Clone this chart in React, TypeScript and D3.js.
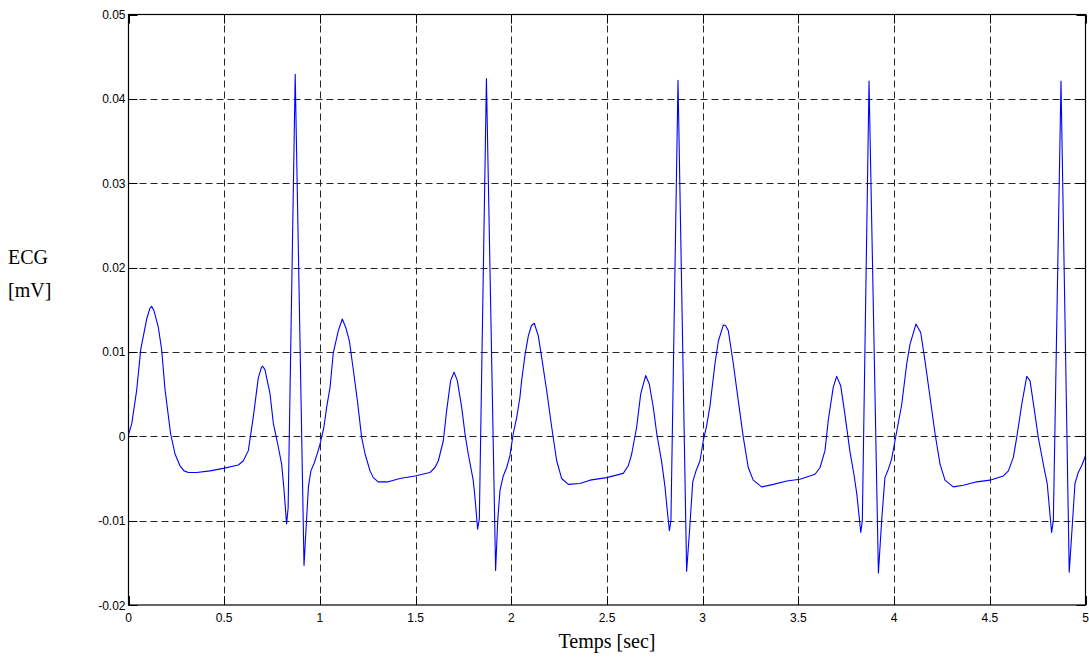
import React from "react";
import * as d3 from "d3";

const timeSec: number[] = [
  0.000, 0.017, 0.043, 0.064, 0.095, 0.112, 0.121, 0.133, 0.156, 0.173, 0.191, 0.220, 0.243, 0.269, 0.290, 0.313, 0.356, 0.426, 0.495, 0.574, 0.600, 0.626, 0.652, 0.678, 0.695, 0.701, 0.713, 0.739, 0.757, 0.783, 0.800, 0.812, 0.826, 0.834, 0.871, 0.917, 0.925, 0.940, 0.953, 0.970, 0.987,
  1.000, 1.021, 1.035, 1.053, 1.070, 1.096, 1.117, 1.135, 1.154, 1.175, 1.196, 1.218, 1.236, 1.262, 1.279, 1.305, 1.357, 1.418, 1.497, 1.575, 1.601, 1.619, 1.645, 1.662, 1.683, 1.701, 1.718, 1.741, 1.758, 1.775, 1.801, 1.810, 1.824, 1.833, 1.870, 1.918, 1.929, 1.941, 1.958, 1.976, 1.993,
  2.010, 2.028, 2.045, 2.054, 2.072, 2.089, 2.105, 2.120, 2.141, 2.159, 2.185, 2.211, 2.237, 2.263, 2.298, 2.359, 2.411, 2.498, 2.585, 2.611, 2.629, 2.655, 2.676, 2.702, 2.721, 2.742, 2.760, 2.786, 2.803, 2.815, 2.826, 2.834, 2.871, 2.916, 2.930, 2.948, 2.965, 2.986,
  3.003, 3.021, 3.038, 3.064, 3.082, 3.108, 3.120, 3.134, 3.160, 3.186, 3.212, 3.238, 3.264, 3.308, 3.369, 3.439, 3.508, 3.587, 3.613, 3.639, 3.656, 3.682, 3.700, 3.721, 3.743, 3.770, 3.790, 3.805, 3.826, 3.834, 3.869, 3.918, 3.935, 3.952, 3.970, 3.987,
  4.005, 4.040, 4.066, 4.083, 4.114, 4.139, 4.161, 4.188, 4.214, 4.240, 4.266, 4.309, 4.362, 4.432, 4.501, 4.571, 4.597, 4.623, 4.641, 4.667, 4.693, 4.710, 4.731, 4.753, 4.783, 4.800, 4.811, 4.823, 4.832, 4.872, 4.915, 4.928, 4.945, 4.962, 4.980, 5.000,
];

const ecgMv: number[] = [
  0.0002, 0.0015, 0.0055, 0.0103, 0.0139, 0.0152, 0.0154, 0.0149, 0.0129, 0.0103, 0.0055, 0.0003, -0.0021, -0.0035, -0.0041, -0.0043, -0.0043, -0.0041, -0.0038, -0.0034, -0.0029, -0.0017, 0.0023, 0.0069, 0.0082, 0.0083, 0.0079, 0.0051, 0.0015, -0.0013, -0.0033, -0.0062, -0.0104, -0.0085, 0.0429, -0.0153, -0.0120, -0.0060, -0.0041, -0.0032, -0.0020,
  -0.0010, 0.0011, 0.0034, 0.0058, 0.0099, 0.0125, 0.0139, 0.0129, 0.0113, 0.0078, 0.0042, -0.0001, -0.0021, -0.0041, -0.0049, -0.0054, -0.0054, -0.0050, -0.0047, -0.0043, -0.0037, -0.0029, -0.0005, 0.0030, 0.0066, 0.0076, 0.0066, 0.0034, 0.0003, -0.0021, -0.0052, -0.0072, -0.0110, -0.0098, 0.0424, -0.0159, -0.0100, -0.0064, -0.0047, -0.0037, -0.0023,
  0.0003, 0.0022, 0.0046, 0.0066, 0.0097, 0.0119, 0.0131, 0.0134, 0.0119, 0.0093, 0.0054, 0.0011, -0.0029, -0.0050, -0.0057, -0.0056, -0.0052, -0.0049, -0.0044, -0.0035, -0.0021, 0.0011, 0.0050, 0.0072, 0.0062, 0.0034, 0.0003, -0.0031, -0.0060, -0.0088, -0.0112, -0.0100, 0.0422, -0.0160, -0.0116, -0.0054, -0.0041, -0.0029,
  -0.0005, 0.0013, 0.0036, 0.0086, 0.0113, 0.0132, 0.0131, 0.0125, 0.0086, 0.0042, -0.0001, -0.0037, -0.0052, -0.0060, -0.0057, -0.0053, -0.0051, -0.0045, -0.0037, -0.0017, 0.0019, 0.0058, 0.0071, 0.0060, 0.0026, -0.0019, -0.0045, -0.0068, -0.0114, -0.0100, 0.0421, -0.0162, -0.0100, -0.0049, -0.0039, -0.0027,
  -0.0005, 0.0038, 0.0086, 0.0109, 0.0133, 0.0123, 0.0090, 0.0046, 0.0003, -0.0033, -0.0052, -0.0060, -0.0058, -0.0054, -0.0052, -0.0047, -0.0041, -0.0025, -0.0001, 0.0038, 0.0071, 0.0066, 0.0034, -0.0001, -0.0037, -0.0056, -0.0084, -0.0114, -0.0100, 0.0421, -0.0161, -0.0116, -0.0056, -0.0043, -0.0035, -0.0023,
];

const xTicks: number[] = [0, 0.5, 1, 1.5, 2, 2.5, 3, 3.5, 4, 4.5, 5];
const xTickLabels: string[] = ["0", "0.5", "1", "1.5", "2", "2.5", "3", "3.5", "4", "4.5", "5"];
const yTicks: number[] = [-0.02, -0.01, 0, 0.01, 0.02, 0.03, 0.04, 0.05];
const yTickLabels: string[] = ["-0.02", "-0.01", "0", "0.01", "0.02", "0.03", "0.04", "0.05"];

const xLabel = "Temps [sec]";
const yLabelLines: string[] = ["ECG", "[mV]"];

const W = 1089;
const H = 659;
const left = 128.5;
const right = 1085.5;
const top = 14.5;
const bottom = 605;
const tickLen = 9;
const tickFont = "'Liberation Sans', Arial, sans-serif";
const labelFont = "'Liberation Serif', 'Times New Roman', serif";

export default function App() {
  const x = d3.scaleLinear().domain([0, 5]).range([left, right]);
  const y = d3.scaleLinear().domain([-0.02, 0.05]).range([bottom, top]);
  const pts: [number, number][] = timeSec.map((t, i) => [t, ecgMv[i]]);
  const line = d3
    .line<[number, number]>()
    .x((d) => x(d[0]))
    .y((d) => y(d[1]))
    .curve(d3.curveLinear);

  const innerX = xTicks.filter((t) => t > 0 && t < 5);
  const innerY = yTicks.filter((t) => t > -0.02 && t < 0.05);

  return (
    <svg
      width={W}
      height={H}
      style={{ position: "absolute", left: 0, top: 0, display: "block", background: "#fff" }}
    >
      <rect x={0} y={0} width={W} height={H} fill="#fff" />
      {/* grid */}
      <g stroke="#000" strokeWidth={1} strokeDasharray="7,4" fill="none" opacity={0.85}>
        {innerX.map((t) => (
          <line key={"gx" + t} x1={Math.round(x(t)) + 0.5} x2={Math.round(x(t)) + 0.5} y1={top} y2={bottom} />
        ))}
        {innerY.map((t) => (
          <line key={"gy" + t} x1={left} x2={right} y1={Math.round(y(t)) + 0.5} y2={Math.round(y(t)) + 0.5} />
        ))}
      </g>
      {/* data */}
      <path d={line(pts) || ""} fill="none" stroke="#0000ff" strokeWidth={1.1} strokeLinejoin="round" />
      {/* ticks */}
      <g stroke="#000" strokeWidth={1}>
        {xTicks.map((t) => {
          const px = Math.round(x(t)) + 0.5;
          return (
            <g key={"tx" + t}>
              <line x1={px} x2={px} y1={bottom} y2={bottom - tickLen} />
              <line x1={px} x2={px} y1={top} y2={top + tickLen} />
            </g>
          );
        })}
        {yTicks.map((t) => {
          const py = Math.round(y(t)) + 0.5;
          return (
            <g key={"ty" + t}>
              <line x1={left} x2={left + tickLen} y1={py} y2={py} />
              <line x1={right} x2={right - tickLen} y1={py} y2={py} />
            </g>
          );
        })}
      </g>
      {/* box */}
      <rect x={left} y={top} width={right - left} height={bottom - top} fill="none" stroke="#000" strokeWidth={1.2} />
      {/* tick labels */}
      <g fontFamily={tickFont} fontSize={12} fill="#000">
        {xTicks.map((t, i) => (
          <text key={"lx" + t} x={x(t)} y={bottom + 17} textAnchor="middle">
            {xTickLabels[i]}
          </text>
        ))}
        {yTicks.map((t, i) => (
          <text key={"ly" + t} x={left - 3} y={y(t) + 4.5} textAnchor="end">
            {yTickLabels[i]}
          </text>
        ))}
      </g>
      {/* axis labels */}
      <g fontFamily={labelFont} fontSize={20} fill="#000">
        <text x={607} y={648} textAnchor="middle">
          {xLabel}
        </text>
        {yLabelLines.map((s, i) => (
          <text key={"yl" + i} x={8} y={264 + i * 33}>
            {s}
          </text>
        ))}
      </g>
    </svg>
  );
}
